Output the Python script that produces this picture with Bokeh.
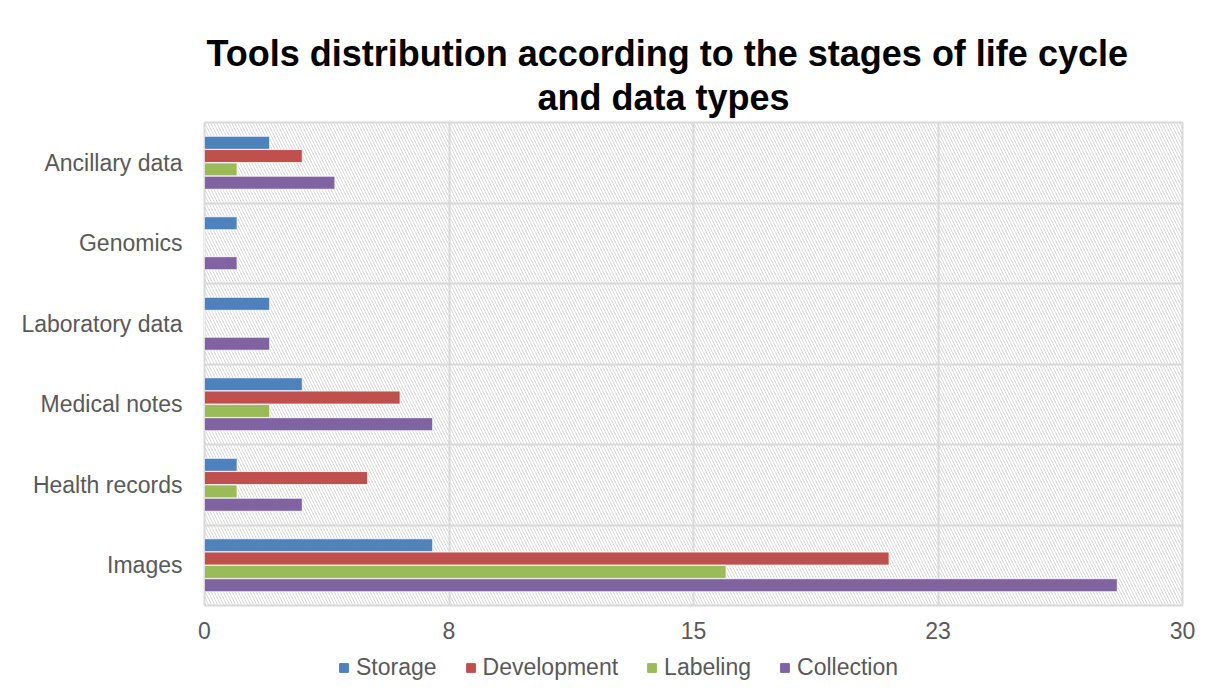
import numpy as np
from bokeh.plotting import figure
from bokeh.layouts import column
from bokeh.models import (Range1d, FixedTicker, BoxAnnotation, Legend,
                          LegendItem, Title, ColumnDataSource)
from bokeh.embed import file_html
from bokeh.resources import INLINE

# ---- data ----
categories = ["Images", "Health records", "Medical notes",
              "Laboratory data", "Genomics", "Ancillary data"]
series_names = ["Storage", "Development", "Labeling", "Collection"]
storage = [7, 1, 3, 2, 1, 2]
development = [21, 5, 6, 0, 0, 3]
labeling = [16, 1, 2, 0, 0, 1]
collection = [28, 3, 7, 2, 1, 4]
colors = ["#4F81BD", "#C0504D", "#9BBB59", "#8064A2"]
x_ticks = [0, 7.5, 15, 22.5, 30]
x_tick_labels = ["0", "8", "15", "23", "30"]
title_lines = ["Tools distribution according to the stages of life cycle",
               "and data types"]

FONT = "Liberation Sans"
TXT = "#595959"
GRID = "#d9d9d9"
W = 1197

p = figure(width=W, height=650, output_backend="svg", toolbar_location=None,
           x_range=Range1d(0, 30), y_range=Range1d(0, len(categories)),
           min_border_left=204, min_border_right=15, min_border_top=122,
           min_border_bottom=45)
p.background_fill_color = "white"
p.border_fill_color = "white"
p.outline_line_color = GRID
p.outline_line_width = 2

# hatched background
hatch = BoxAnnotation(fill_alpha=0, line_alpha=0, hatch_pattern="\\",
                      hatch_color="#d9d9d9", hatch_scale=6, hatch_weight=1,
                      level="underlay")
p.add_layout(hatch)

# grids
p.xgrid.ticker = FixedTicker(ticks=x_ticks)
p.xgrid.grid_line_color = GRID
p.xgrid.grid_line_width = 2
p.ygrid.ticker = FixedTicker(ticks=list(range(len(categories) + 1)))
p.ygrid.grid_line_color = GRID
p.ygrid.grid_line_width = 2

# bars
series = [storage, development, labeling, collection]
offsets = [0.248, 0.083, -0.083, -0.248]
centers = np.arange(len(categories)) + 0.5
for name, vals, col, off in zip(series_names, series, colors, offsets):
    src = ColumnDataSource(dict(y=centers + off, right=vals))
    p.hbar(y="y", right="right", left=0, height=0.162, source=src,
           fill_color=col, line_color="white", line_width=0.8)

# axes
p.xaxis.ticker = FixedTicker(ticks=x_ticks)
p.xaxis.major_label_overrides = {t: l for t, l in zip(x_ticks, x_tick_labels)}
p.yaxis.ticker = FixedTicker(ticks=list(centers))
p.yaxis.major_label_overrides = {float(c): n for c, n in zip(centers, categories)}
for ax in (p.xaxis[0], p.yaxis[0]):
    ax.axis_line_color = None
    ax.major_tick_line_color = None
    ax.minor_tick_line_color = None
    ax.major_label_text_font = FONT
    ax.major_label_text_font_size = "23px"
    ax.major_label_text_color = TXT
p.xaxis.major_label_standoff = 10
p.yaxis.major_label_standoff = 16

# title (second line first: it sits closest to the plot)
for line, off, so in zip(reversed(title_lines), [333, 2], [10, -8]):
    p.add_layout(Title(text=line, align="left", offset=off,
                       text_font=FONT, text_font_style="bold",
                       text_font_size="36px", text_color="black",
                       standoff=so), "above")

# legend strip below the chart (its stand-in glyphs lie outside its range)
pl = figure(width=W, height=44, output_backend="svg", toolbar_location=None,
            x_range=Range1d(0, 1), y_range=Range1d(0, 1),
            x_axis_type=None, y_axis_type=None, min_border=0)
pl.grid.visible = False
pl.outline_line_color = None
pl.background_fill_color = "white"
pl.border_fill_color = "white"
leg_r = [pl.hbar(y=[-5], right=[-4], left=-5, height=0.5, fill_color=c, line_color=c)
         for c in colors]
legend = Legend(items=[LegendItem(label=n, renderers=[r]) for n, r in zip(series_names, leg_r)],
                orientation="horizontal", location=(134, 13),
                label_text_font=FONT, label_text_font_size="23px",
                label_text_color=TXT, glyph_width=11, glyph_height=11,
                label_standoff=7, spacing=28, padding=4, margin=0,
                border_line_color=None, background_fill_alpha=0)
pl.add_layout(legend)

layout = column(p, pl, spacing=0)
open("out.html", "w").write(file_html(layout, INLINE))
